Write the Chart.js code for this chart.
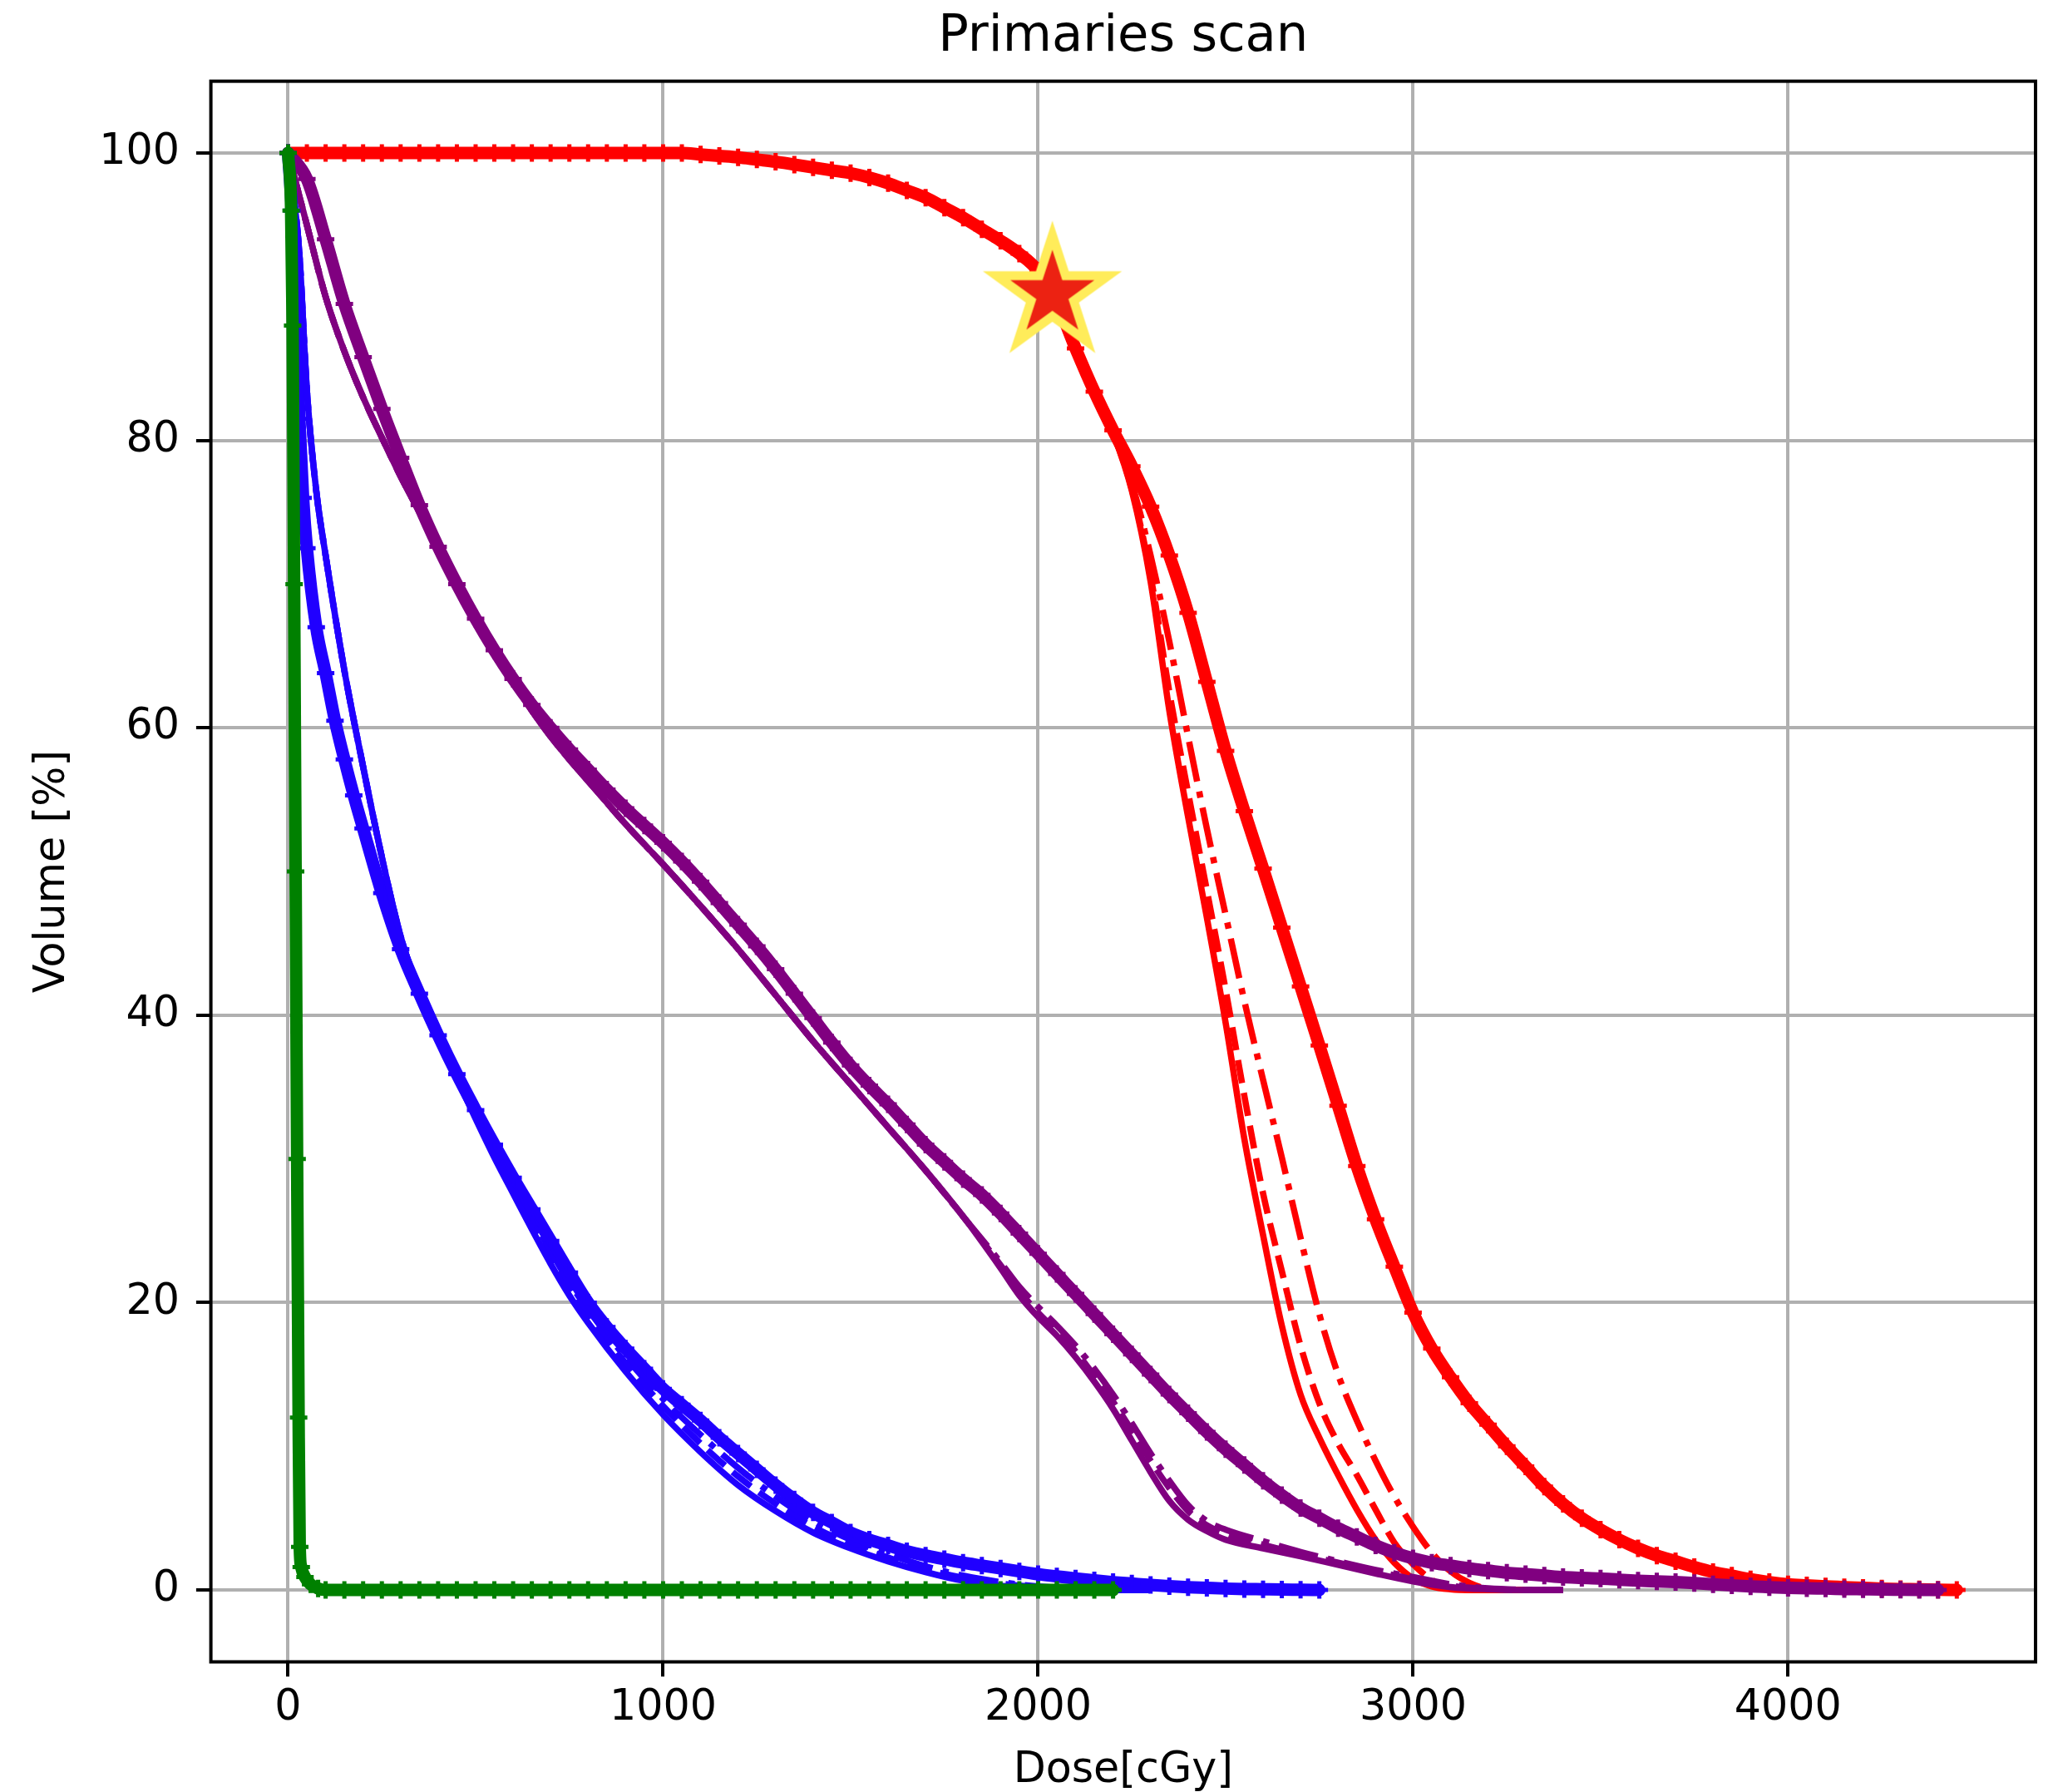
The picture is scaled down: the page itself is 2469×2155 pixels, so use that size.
<!DOCTYPE html>
<html>
<head>
<meta charset="utf-8">
<script src="https://cdn.jsdelivr.net/npm/chart.js@4.4.1/dist/chart.umd.min.js"></script>
<style>
html,body{margin:0;padding:0;background:#fff;}
#c{display:block;}
</style>
</head>
<body>
<canvas id="c" width="2469" height="2155" style="width:2469px;height:2155px"></canvas>
<script>
// ---------------- DATA ----------------
const xTicks = [0, 1000, 2000, 3000, 4000];
const yTicks = [0, 20, 40, 60, 80, 100];

// RED (target) – solid / dashed / dash-dot share a dose grid
const redLineDose = [0,500,1000,1200,1400,1600,1700,1800,1900,2000,
  2050,2100,2150,2200,2250,2300,2350,2400,2450,2500,2550,2600,2650,2700,2750,2800,2850,2900,2950,3000,3050,3100,3150,3200,3300];
const redSolidVol = [100,100,100,99.7,99.0,97.9,96.9,95.5,93.9,91.8,
  89.6,86.4,83.4,80.5,76.5,70.2,61.2,53.8,46.8,39.5,31.4,24.7,18.4,13.6,10.6,8.0,5.6,3.5,1.9,0.8,0.25,0.05,0,0,0];
const redDashVol = [100,100,100,99.7,99.0,97.9,96.9,95.5,93.9,91.8,
  89.6,86.4,83.4,80.5,76.6,70.6,62.5,55.5,48.7,41.8,34.4,27.6,22.2,17.0,13.0,10.2,8.0,5.6,3.3,1.8,0.7,0.15,0.02,0,0];
const redDashDotVol = [100,100,100,99.7,99.0,97.9,96.9,95.5,93.9,91.8,
  89.6,86.4,83.4,80.5,77.0,72.0,66.0,59.4,53.0,47.0,41.0,35.5,30.1,24.5,19.2,15.0,11.8,9.0,6.5,4.4,2.6,1.3,0.5,0.1,0];
const redMarkDose = [0,50,100,150,200,250,300,350,400,450,500,550,600,650,700,750,800,850,900,950,1000,1050,
  1100,1150,1200,1250,1300,1350,1400,1450,1500,1550,1600,1650,1700,1750,1800,1850,1900,1950,2000,2050,2100,2150,
  2200,2250,2300,2350,2400,2450,2500,2550,2600,2650,2700,2750,2800,2850,2900,2950,3000,3050,3100,3150,3200,3250,
  3300,3350,3400,3450,3500,3550,3600,3650,3700,3750,3800,3850,3900,3950,4000,4050,4100,4150,4200,4250,4300,4350,4400,4450];
const redMarkVol = [100,100,100,100,100,100,100,100,100,100,100,100,100,100,100,100,100,100,100,100,100,100,
  99.9,99.8,99.7,99.55,99.4,99.2,99.0,98.8,98.6,98.3,97.9,97.4,96.9,96.2,95.5,94.7,93.9,93.0,91.8,89.6,86.4,83.4,
  80.7,78.2,75.4,72.0,68.0,63.2,58.4,54.2,50.2,46.1,42.0,37.9,33.7,29.5,25.8,22.5,19.3,16.8,14.8,13.0,11.5,10.0,
  8.6,7.2,6.0,5.0,4.2,3.5,2.9,2.4,2.0,1.6,1.25,1.0,0.75,0.55,0.4,0.32,0.25,0.2,0.15,0.1,0.07,0.05,0.02,0];

// PURPLE
const purpleLineDose = [0,25,50,100,150,200,250,300,350,400,450,500,550,600,650,700,750,800,
  900,1000,1100,1200,1300,1400,1500,1600,1700,1800,1900,
  1950,2000,2050,2100,2150,2200,2250,2300,2350,2400,2450,2500,
  2600,2700,2800,2900,3000,3100,3200,3300,3400];
const purpleSolidVol = [100,97.5,95,90,86.2,83,80.2,77.5,75,72.3,69.8,67.5,65.3,63.2,61.2,59.4,57.8,56.3,
  53.3,50.5,47.6,44.6,41.4,38.2,35.2,32.2,29.2,26.0,22.4,
  20.5,19.0,17.7,16.2,14.5,12.6,10.4,8.2,6.2,4.9,4.1,3.5,
  2.9,2.35,1.75,1.15,0.6,0.2,0.05,0,0];
const purpleDashVol = [100,97.5,95,90,86.2,83,80.2,77.5,75,72.3,69.8,67.5,65.3,63.2,61.2,59.4,57.8,56.3,
  53.3,50.5,47.6,44.6,41.4,38.2,35.2,32.2,29.2,26.0,22.6,
  20.8,19.3,18.0,16.6,14.9,13.1,11.1,9.0,7.1,5.5,4.5,3.9,
  3.15,2.5,1.9,1.3,0.75,0.3,0.08,0,0];
const purpleDashDotVol = [100,97.5,95,90,86.2,83,80.2,77.5,75,72.3,69.8,67.5,65.3,63.2,61.2,59.4,57.8,56.3,
  53.3,50.5,47.6,44.6,41.4,38.2,35.2,32.2,29.2,26.0,22.8,
  21.1,19.7,18.4,17.0,15.4,13.6,11.6,9.5,7.6,5.9,4.8,4.2,
  3.4,2.65,2.0,1.4,0.9,0.4,0.12,0.02,0];
const purpleMarkDose = [0,50,100,150,200,250,300,350,400,450,500,550,600,650,700,750,800,850,900,950,1000,
  1050,1100,1150,1200,1250,1300,1350,1400,1450,1500,1550,1600,1650,1700,1750,1800,1850,1900,1950,2000,
  2050,2100,2150,2200,2250,2300,2350,2400,2450,2500,2550,2600,2650,2700,2750,2800,2850,2900,2950,3000,
  3050,3100,3150,3200,3250,3300,3350,3400,3450,3500,3550,3600,3650,3700,3750,3800,3850,3900,3950,4000,
  4050,4100,4150,4200,4250,4300,4350,4400];
const purpleMarkVol = [100,98.2,94.0,89.5,85.8,82.2,78.8,75.5,72.6,70.0,67.6,65.4,63.4,61.6,60.0,58.5,57.1,55.7,54.4,53.2,52.0,
  50.7,49.3,47.8,46.3,44.8,43.2,41.5,39.8,38.1,36.5,35.1,33.8,32.4,31.0,29.8,28.6,27.5,26.2,24.8,23.4,
  22.0,20.6,19.2,17.8,16.4,15.0,13.6,12.3,11.0,9.8,8.7,7.6,6.6,5.7,5.0,4.3,3.7,3.1,2.6,2.2,
  1.9,1.7,1.5,1.35,1.2,1.1,1.0,0.9,0.85,0.8,0.72,0.65,0.6,0.55,0.48,0.4,0.32,0.25,0.2,0.15,
  0.12,0.1,0.07,0.05,0.03,0.02,0.01,0];

// BLUE
const blueLineDose = [0,15,30,50,75,100,150,200,250,300,350,400,450,500,550,600,650,700,750,800,
  900,1000,1100,1200,1300,1400,1500,1600,1700,1800,1900,2000,2100,2200,2300];
const blueSolidVol = [100,97,93,83.5,76.5,72,64,57.3,51,45.5,41.6,38.5,35.6,32.8,30.1,27.6,25.1,22.7,20.5,18.6,
  15.2,12.2,9.6,7.3,5.5,4.0,2.9,2.0,1.25,0.65,0.3,0.12,0.04,0,0];
const blueDashVol = [100,97,93,83.5,76.5,72,64,57.3,51,45.5,41.6,38.6,35.7,33.0,30.4,28.0,25.6,23.2,21.0,19.1,
  15.8,12.8,10.2,7.9,6.0,4.4,3.2,2.25,1.45,0.85,0.45,0.2,0.07,0.02,0];
const blueDashDotVol = [100,97,93,83.5,76.5,72,64,57.3,51,45.5,41.6,38.6,35.8,33.2,30.7,28.3,25.9,23.6,21.4,19.5,
  16.2,13.3,10.8,8.5,6.5,4.8,3.5,2.5,1.65,1.0,0.55,0.25,0.1,0.03,0];
const blueMarkDose = [0,10,20,30,40,50,75,100,125,150,175,200,250,300,350,400,450,500,550,600,650,700,750,800,
  850,900,950,1000,1050,1100,1150,1200,1250,1300,1350,1400,1450,1500,1550,1600,1650,1700,1750,1800,
  1850,1900,1950,2000,2050,2100,2150,2200,2250,2300,2350,2400,2450,2500,2550,2600,2650,2700,2750];
const blueMarkVol = [100,96,89,81.5,76,72.5,67,63.8,60.5,57.8,55.3,53,48.5,44.6,41.5,38.6,35.9,33.4,31.0,28.7,26.5,24.3,22.1,20.0,
  18.3,16.8,15.4,14.0,12.9,11.8,10.6,9.5,8.4,7.3,6.3,5.4,4.7,4.0,3.5,3.1,2.7,2.4,2.15,1.9,
  1.7,1.5,1.3,1.1,0.95,0.8,0.67,0.55,0.45,0.35,0.27,0.2,0.15,0.1,0.07,0.05,0.03,0.02,0];

// GREEN
const greenLineDose = [0,8,12,16,20,24,28,31,35,45,60,80,100,500,1000,1500,2000,2200];
const greenLineVol  = [100,96,88,70,50,30,12,3,1.6,0.9,0.4,0.1,0,0,0,0,0,0];
const greenMarkDose = [0,8,12,16,20,24,28,31,35,45,60,80,100,150,200,250,300,350,400,450,500,550,600,650,700,750,
  800,850,900,950,1000,1050,1100,1150,1200,1250,1300,1350,1400,1450,1500,1550,1600,1650,1700,1750,
  1800,1850,1900,1950,2000,2050,2100,2150,2200];
const greenMarkVol = [100,96,88,70,50,30,12,3,1.6,0.9,0.4,0.1,0,0,0,0,0,0,0,0,0,0,0,0,0,0,
  0,0,0,0,0,0,0,0,0,0,0,0,0,0,0,0,0,0,0,0,
  0,0,0,0,0,0,0,0,0];

// Highlighted point (star)
const starDose = [2038];
const starVol = [90.2];

// ---------------- STYLE ----------------
const FONT = 'DejaVu Sans';
const LW = 7.6;
const DASH = [28, 12];
const DASHDOT = [48.7, 12.2, 7.6, 12.2];
const RED = '#ff0000', PURPLE = '#800080', BLUE = '#2000ff', GREEN = '#008000';

function pts(xs, ys) { return xs.map((x, i) => ({x: x, y: ys[i]})); }
function lineDS(label, xs, ys, color, dash, order) {
  return {label, data: pts(xs, ys), borderColor: color, backgroundColor: color, borderWidth: LW,
    borderDash: dash, borderCapStyle: 'butt', borderJoinStyle: 'round', pointRadius: 0,
    cubicInterpolationMode: 'monotone', fill: false, order};
}
function markDS(label, xs, ys, color, order) {
  return {label, data: pts(xs, ys), borderColor: color, backgroundColor: color, borderWidth: 15,
    borderJoinStyle: 'round', borderCapStyle: 'round', pointStyle: 'cross', pointRadius: 10.5, pointBorderWidth: 5,
    pointBorderColor: color, pointBackgroundColor: color, cubicInterpolationMode: 'monotone', fill: false, order};
}

// star marker image
const starImg = document.createElement('canvas');
starImg.width = 220; starImg.height = 220;
(function () {
  const g = starImg.getContext('2d');
  const cx = 110, cy = 110, R = 70.5, r = R * 0.381966;
  g.beginPath();
  for (let k = 0; k < 10; k++) {
    const ang = -Math.PI / 2 + k * Math.PI / 5;
    const rad = (k % 2 === 0) ? R : r;
    const px = cx + rad * Math.cos(ang), py = cy + rad * Math.sin(ang);
    if (k === 0) g.moveTo(px, py); else g.lineTo(px, py);
  }
  g.closePath();
  g.fillStyle = '#ec2212';
  g.fill();
  g.lineJoin = 'miter'; g.miterLimit = 10;
  g.lineWidth = 10.8; g.strokeStyle = '#ffec5a';
  g.stroke();
})();

const framePlugin = {
  id: 'frame',
  afterDatasetsDraw(chart) {
    const {ctx, chartArea: a} = chart;
    ctx.save();
    ctx.strokeStyle = '#000';
    ctx.lineWidth = 4;
    ctx.lineJoin = 'miter';
    ctx.strokeRect(a.left, a.top, a.right - a.left, a.bottom - a.top);
    ctx.restore();
  }
};

const datasets = [
  {label: 'star', data: pts(starDose, starVol), showLine: false, pointStyle: starImg, pointRadius: 20, order: 0},
  lineDS('green solid', greenLineDose, greenLineVol, GREEN, [], 1),
  lineDS('green dashed', greenLineDose, greenLineVol, GREEN, DASH, 1),
  lineDS('green dashdot', greenLineDose, greenLineVol, GREEN, DASHDOT, 1),
  markDS('green mark', greenMarkDose, greenMarkVol, GREEN, 1),
  lineDS('blue solid', blueLineDose, blueSolidVol, BLUE, [], 2),
  lineDS('blue dashed', blueLineDose, blueDashVol, BLUE, DASH, 2),
  lineDS('blue dashdot', blueLineDose, blueDashDotVol, BLUE, DASHDOT, 2),
  markDS('blue mark', blueMarkDose, blueMarkVol, BLUE, 2),
  lineDS('purple solid', purpleLineDose, purpleSolidVol, PURPLE, [], 3),
  lineDS('purple dashed', purpleLineDose, purpleDashVol, PURPLE, DASH, 3),
  lineDS('purple dashdot', purpleLineDose, purpleDashDotVol, PURPLE, DASHDOT, 3),
  markDS('purple mark', purpleMarkDose, purpleMarkVol, PURPLE, 3),
  lineDS('red solid', redLineDose, redSolidVol, RED, [], 4),
  lineDS('red dashed', redLineDose, redDashVol, RED, DASH, 4),
  lineDS('red dashdot', redLineDose, redDashDotVol, RED, DASHDOT, 4),
  markDS('red mark', redMarkDose, redMarkVol, RED, 4)
];

new Chart(document.getElementById('c'), {
  type: 'line',
  data: {datasets},
  plugins: [framePlugin],
  options: {
    responsive: false,
    devicePixelRatio: 1,
    animation: false,
    events: [],
    layout: {padding: {left: 0, right: 13, top: 0, bottom: 0}},
    plugins: {
      legend: {display: false},
      tooltip: {enabled: false},
      title: {
        display: true, text: 'Primaries scan', color: '#000', fullSize: false,
        font: {family: FONT, size: 60.8, weight: 'normal', lineHeight: 1.2},
        padding: {top: 9, bottom: 15.7}
      }
    },
    scales: {
      x: {
        type: 'linear', min: -206, max: 4660,
        afterBuildTicks: s => { s.ticks = xTicks.map(v => ({value: v})); },
        afterFit: s => { s.height = 156.5; },
        ticks: {autoSkip: false, maxRotation: 0, minRotation: 0, padding: 7.9, color: '#000',
          font: {family: FONT, size: 50.7, lineHeight: 1.2}, callback: v => String(v)},
        grid: {color: '#b0b0b0', lineWidth: 4, drawTicks: true, tickLength: 17.7, tickColor: '#000', tickWidth: 4},
        border: {display: false},
        title: {display: true, text: 'Dose[cGy]', color: '#000',
          font: {family: FONT, size: 50.7, weight: 'normal', lineHeight: 1}, padding: {top: 0, bottom: 0}}
      },
      y: {
        type: 'linear', min: -5, max: 105,
        afterBuildTicks: s => { s.ticks = yTicks.map(v => ({value: v})); },
        afterFit: s => { s.width = 253.6; },
        ticks: {autoSkip: false, padding: 19.9, color: '#000',
          font: {family: FONT, size: 50.7, lineHeight: 1.2}, callback: v => String(v)},
        grid: {color: '#b0b0b0', lineWidth: 4, drawTicks: true, tickLength: 17.7, tickColor: '#000', tickWidth: 4},
        border: {display: false},
        title: {display: true, text: 'Volume [%]', color: '#000',
          font: {family: FONT, size: 50.7, weight: 'normal', lineHeight: 1}, padding: {top: 38, bottom: 0}}
      }
    }
  }
});
</script>
</body>
</html>
